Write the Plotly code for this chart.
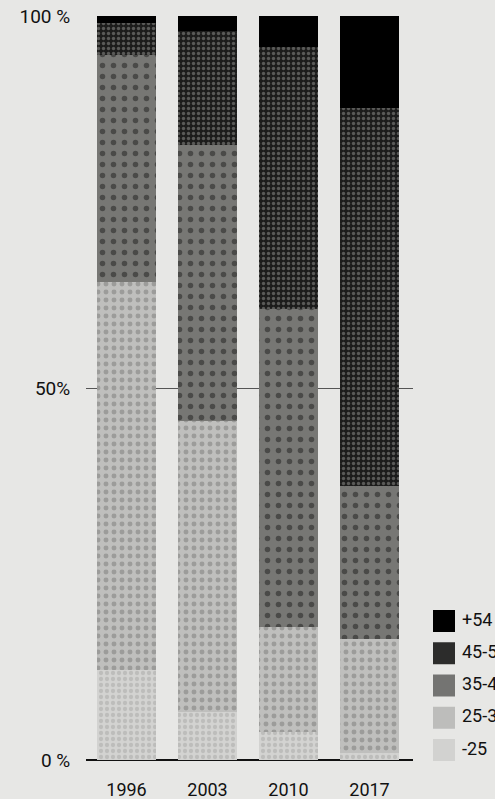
import plotly.graph_objects as go

# ---- data (percent of each year's total) ----
years = ["1996", "2003", "2010", "2017"]
age_groups = ["-25", "25-34", "35-44", "45-54", "+54"]
share_under25 = [12.1, 6.5, 3.8, 0.9]
share_25_34 = [52.1, 39.1, 14.1, 15.4]
share_35_44 = [30.6, 37.0, 42.7, 20.5]
share_45_54 = [4.3, 15.4, 35.2, 50.8]
share_over54 = [0.9, 2.0, 4.2, 12.4]
series = [share_under25, share_25_34, share_35_44, share_45_54, share_over54]

y_tickvals = [0, 50, 100]
y_ticktext = ["0 %", "50%", "100 %"]

# ---- styling ----
BG = "#e7e7e5"
FONT = "Roboto, 'DejaVu Sans', sans-serif"
fills = [
    dict(bg="#d3d3d1", fg="#bdbdbb", shape=".", size=6, solidity=0.4),
    dict(bg="#bfbfbd", fg="#9c9c9a", shape=".", size=8, solidity=0.3),
    dict(bg="#777774", fg="#4a4a48", shape=".", size=11, solidity=0.2),
    dict(bg="#1c1c1b", fg="#5a5a58", shape=".", size=5, solidity=0.35),
    dict(bg="#000000", fg="#000000", shape="", size=8, solidity=0.2),
]
swatch_colors = ["#d2d2d0", "#bdbdbb", "#747472", "#2c2c2b", "#000000"]

fig = go.Figure()
for name, vals, f in zip(age_groups, series, fills):
    fig.add_trace(go.Bar(
        x=years, y=vals, name=name,
        marker=dict(color=f["bg"], line=dict(width=0),
                    pattern=dict(shape=f["shape"], fgcolor=f["fg"], bgcolor=f["bg"],
                                 size=f["size"], solidity=f["solidity"], fillmode="replace")),
        showlegend=False, hoverinfo="skip",
    ))

# custom legend (bigger swatches), on its own hidden axes
legend_order = list(reversed(age_groups))          # top to bottom
legend_cols = list(reversed(swatch_colors))
legend_y = [10 + 32.25 * (len(legend_order) - 1 - i) for i in range(len(legend_order))]
fig.add_trace(go.Scatter(
    x=[11] * len(legend_order), y=legend_y, xaxis="x2", yaxis="y2",
    mode="markers", marker=dict(symbol="square", size=22, color=legend_cols, line=dict(width=0)),
    showlegend=False, hoverinfo="skip", cliponaxis=False,
))
fig.add_trace(go.Scatter(
    x=[29] * len(legend_order), y=legend_y, xaxis="x2", yaxis="y2",
    mode="text", text=legend_order, textposition="middle right",
    textfont=dict(size=18, color="#111111", family=FONT),
    showlegend=False, hoverinfo="skip", cliponaxis=False,
))

W, H = 495, 799
L, T, B = 86, 16, 39
paper_w = W - L
fig.update_layout(
    width=W, height=H,
    margin=dict(l=L, r=0, t=T, b=B, pad=0, autoexpand=False),
    barmode="stack", bargap=0.27,
    paper_bgcolor=BG, plot_bgcolor=BG,
    font=dict(family=FONT, size=18, color="#111111"),
    xaxis=dict(domain=[0, (413 - L) / paper_w], range=[-0.5, 3.537], automargin=False,
               showgrid=False, zeroline=False, showline=False,
               ticks="outside", ticklen=13, tickcolor="rgba(0,0,0,0)",
               tickfont=dict(size=18, color="#111111")),
    yaxis=dict(range=[0, 100], tickvals=y_tickvals, ticktext=y_ticktext, automargin=False,
               showgrid=True, gridcolor="#555555", gridwidth=1,
               zeroline=True, zerolinecolor="#111111", zerolinewidth=1.5,
               showline=False, ticks="outside", ticklen=11, tickcolor="rgba(0,0,0,0)",
               tickfont=dict(size=19, color="#111111")),
    xaxis2=dict(domain=[(433 - L) / paper_w, 1], range=[0, W - 433], visible=False,
                anchor="y2", automargin=False),
    yaxis2=dict(domain=[0, 1], range=[0, H - T - B], visible=False, anchor="x2",
                automargin=False),
)

fig.write_html(
    "out.html",
    config={"displayModeBar": False},
    post_script="document.body.style.margin='0';document.body.style.overflow='hidden';",
)
